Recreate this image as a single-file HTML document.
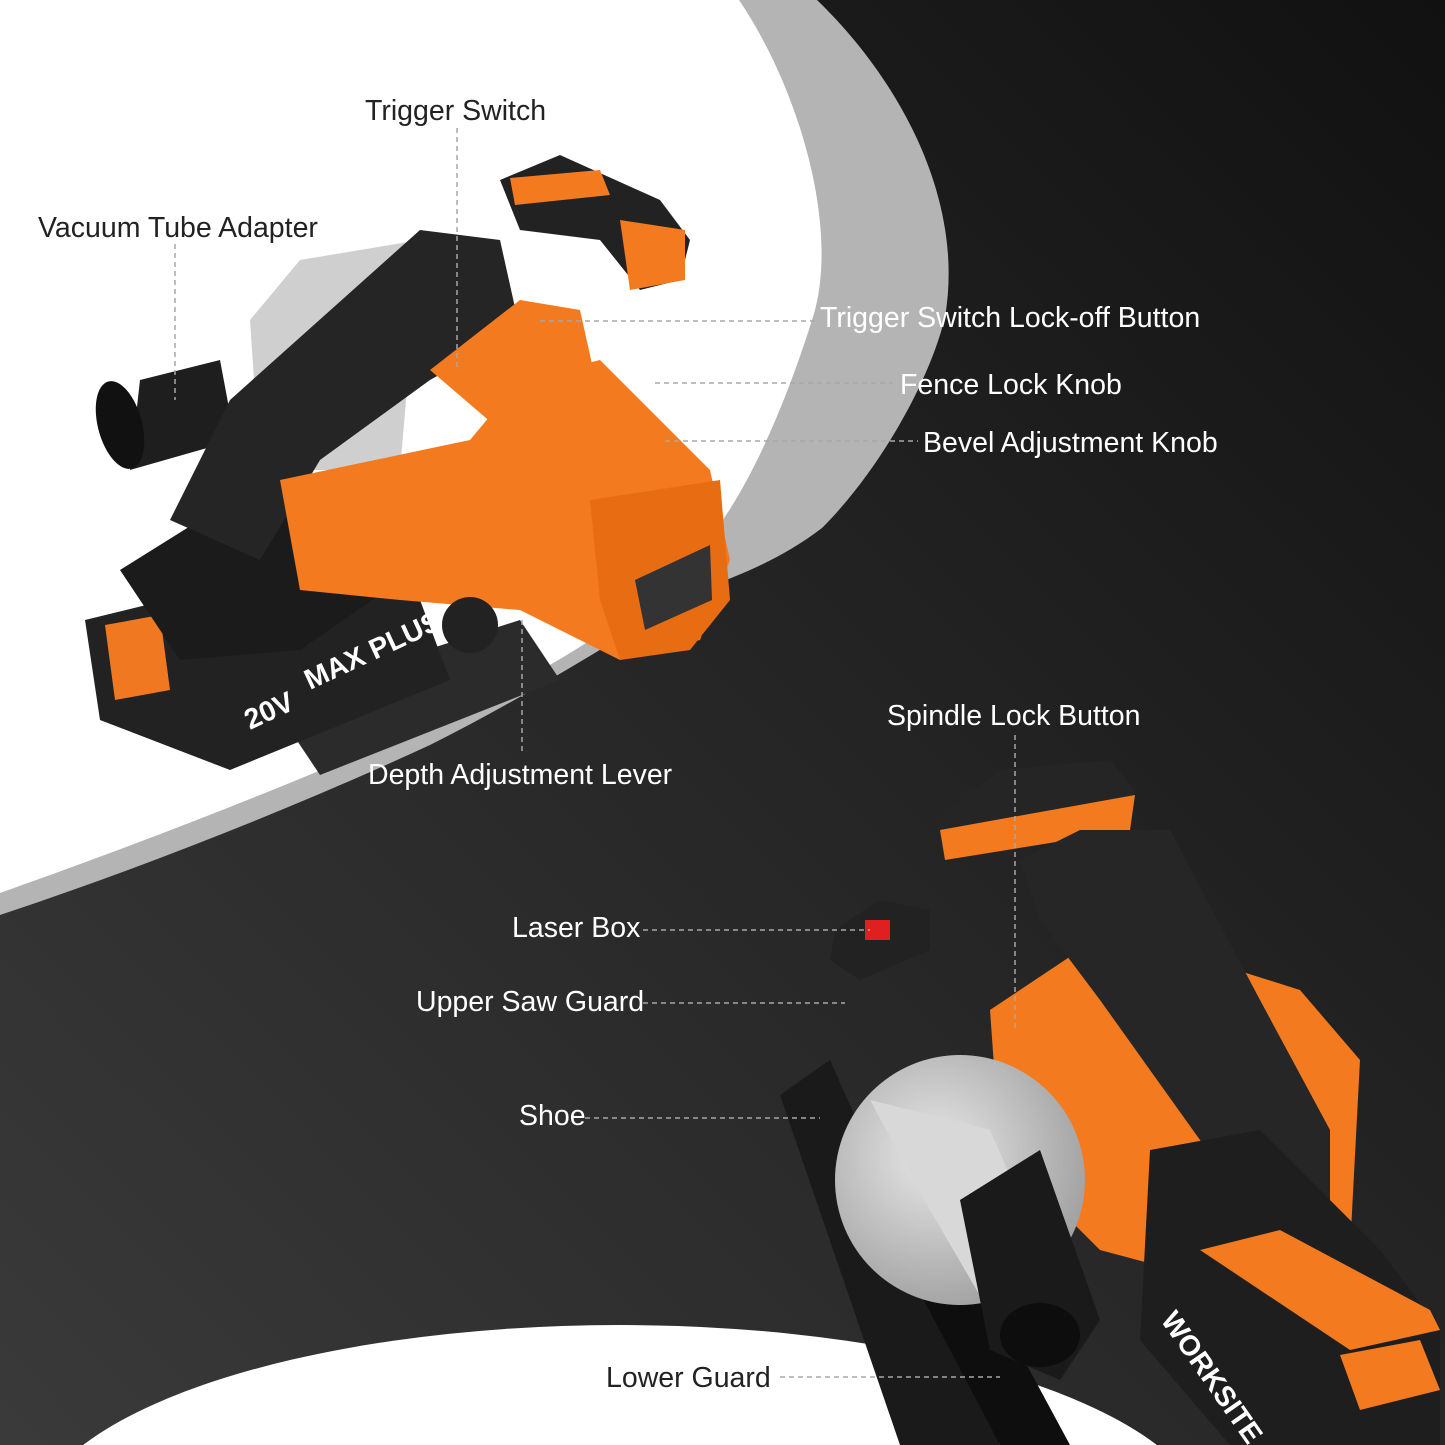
<!DOCTYPE html>
<html><head><meta charset="utf-8"><style>
html,body{margin:0;padding:0;width:1445px;height:1445px;overflow:hidden;background:#1c1c1c}
svg{display:block}
text{font-family:"Liberation Sans",sans-serif;font-size:28.5px}
</style></head><body>
<svg width="1445" height="1445" viewBox="0 0 1445 1445" xmlns="http://www.w3.org/2000/svg" overflow="hidden">
<defs>
<linearGradient id="bg" x1="0" y1="1" x2="1" y2="0">
<stop offset="0" stop-color="#3a3a3a"/><stop offset="0.5" stop-color="#262626"/><stop offset="1" stop-color="#111"/>
</linearGradient>
<radialGradient id="sil" cx="0.4" cy="0.4" r="0.7"><stop offset="0" stop-color="#e8e8e8"/><stop offset="1" stop-color="#9a9a9a"/></radialGradient>
<clipPath id="c"><rect width="1445" height="1445"/></clipPath>
</defs>
<g clip-path="url(#c)">
<rect width="1445" height="1445" fill="url(#bg)"/>
<path d="M0,0 L817,0 C900,80 965,200 945,317 C930,380 880,470 822,528 C780,560 740,575 695,592 C600,650 520,700 430,745 C300,805 150,865 0,915 Z" fill="#b4b4b4"/>
<path d="M0,0 L739,0 C800,90 840,230 813,317 C795,375 760,470 717,528 C650,610 560,665 470,705 C330,770 150,840 0,893 Z" fill="#ffffff"/>
<ellipse cx="620" cy="1530" rx="590" ry="205" fill="#ffffff"/>

<g>
<path d="M140,380 L220,360 L235,440 L130,470 Z" fill="#1e1e1e"/>
<ellipse cx="120" cy="425" rx="22" ry="45" fill="#111" transform="rotate(-15 120 425)"/>
<path d="M250,320 L300,260 L420,240 L400,470 L260,470 Z" fill="#cfcfcf"/>
<path d="M270,700 L520,620 L560,680 L320,775 Z" fill="#2b2b2b"/>
<path d="M85,620 L330,560 L420,600 L450,680 L230,770 L100,720 Z" fill="#222"/>
<path d="M105,625 L160,615 L170,690 L115,700 Z" fill="#f07820"/>
<path d="M120,570 L200,520 L340,480 L430,560 L300,650 L180,660 Z" fill="#1b1b1b"/>
<path d="M170,520 L230,400 L420,230 L500,240 L520,330 L430,380 L320,460 L260,560 Z" fill="#252525"/>
<path d="M280,480 L470,440 L520,380 L600,360 L710,470 L730,560 L700,640 L620,660 L520,610 L400,600 L300,590 Z" fill="#f47a20"/>
<path d="M430,370 L520,300 L580,310 L600,400 L500,430 Z" fill="#f47a20"/>
<path d="M590,500 L720,480 L730,600 L690,650 L620,660 L600,600 Z" fill="#e86c12"/>
<path d="M635,580 L710,545 L712,600 L645,630 Z" fill="#333"/>
<path d="M500,180 L560,155 L660,200 L690,240 L680,280 L640,290 L600,240 L520,230 Z" fill="#222"/>
<path d="M620,220 L685,230 L685,280 L630,290 Z" fill="#f47a20"/>
<path d="M510,178 L600,170 L610,195 L515,205 Z" fill="#f47a20"/>
<circle cx="470" cy="625" r="28" fill="#222"/>
<text x="250" y="730" fill="#fff" font-size="26" font-weight="bold" transform="rotate(-25 250 730)">20V</text>
<text x="310" y="690" fill="#fff" font-size="13" font-weight="bold" transform="rotate(-25 310 690)">MAX PLUS</text>
</g>

<g>
<path d="M780,1095 L830,1060 L1000,1445 L900,1445 Z" fill="#1a1a1a"/>
<path d="M845,1150 L900,1130 L1070,1445 L1000,1445 Z" fill="#0e0e0e"/>
<path d="M990,1010 L1110,930 L1300,990 L1360,1060 L1350,1250 L1250,1290 L1100,1250 L1000,1150 Z" fill="#f47a20"/>
<circle cx="960" cy="1180" r="125" fill="url(#sil)"/>
<path d="M870,1100 L990,1130 L1060,1290 L1000,1330 L930,1210 Z" fill="#d8d8d8"/>
<path d="M960,1200 L1040,1150 L1100,1320 L1060,1380 L990,1350 Z" fill="#1a1a1a"/>
<ellipse cx="1040" cy="1335" rx="40" ry="32" fill="#0d0d0d"/>
<path d="M835,930 L880,900 L930,910 L930,950 L860,980 L830,960 Z" fill="#222"/>
<rect x="865" y="920" width="25" height="20" fill="#e02020"/>
<path d="M935,820 L1000,770 L1110,760 L1135,790 L1130,830 L1010,850 L940,865 Z" fill="#252525"/>
<path d="M940,830 L1135,795 L1130,830 L945,860 Z" fill="#f47a20"/>
<path d="M1020,860 L1080,830 L1170,830 L1260,1000 L1330,1130 L1330,1200 L1260,1230 L1200,1140 L1100,1000 L1040,920 Z" fill="#262626"/>
<path d="M1150,1150 L1260,1130 L1380,1250 L1440,1330 L1440,1445 L1230,1445 L1140,1340 Z" fill="#1e1e1e"/>
<path d="M1200,1250 L1280,1230 L1430,1310 L1440,1330 L1350,1350 Z" fill="#f47a20"/>
<path d="M1340,1355 L1420,1340 L1440,1390 L1360,1410 Z" fill="#f47a20"/>
<text x="1160" y="1320" fill="#fff" font-size="20" font-weight="bold" transform="rotate(55 1160 1320)">WORKSITE</text>
</g>

<g stroke="#a8a8a8" stroke-width="1.5" stroke-dasharray="5,4" fill="none">
<line x1="457" y1="128" x2="457" y2="370"/>
<line x1="175" y1="244" x2="175" y2="400"/>
<line x1="540" y1="321" x2="815" y2="321"/>
<line x1="655" y1="383" x2="893" y2="383"/>
<line x1="665" y1="441" x2="918" y2="441"/>
<line x1="522" y1="620" x2="522" y2="752"/>
<line x1="1015" y1="735" x2="1015" y2="1030"/>
<line x1="643" y1="930" x2="870" y2="930"/>
<line x1="643" y1="1003" x2="845" y2="1003"/>
<line x1="585" y1="1118" x2="820" y2="1118"/>
<line x1="780" y1="1377" x2="1000" y2="1377"/>
</g>

<g>
<text x="365" y="120" fill="#222">Trigger Switch</text>
<text x="38" y="237" fill="#222">Vacuum Tube Adapter</text>
<text x="820" y="327" fill="#fff">Trigger Switch Lock-off Button</text>
<text x="900" y="394" fill="#fff">Fence Lock Knob</text>
<text x="923" y="452" fill="#fff">Bevel Adjustment Knob</text>
<text x="368" y="784" fill="#fff">Depth Adjustment Lever</text>
<text x="887" y="725" fill="#fff">Spindle Lock Button</text>
<text x="512" y="937" fill="#fff">Laser Box</text>
<text x="416" y="1011" fill="#fff">Upper Saw Guard</text>
<text x="519" y="1125" fill="#fff">Shoe</text>
<text x="606" y="1387" fill="#222">Lower Guard</text>
</g>
</g>
</svg>
</body></html>
